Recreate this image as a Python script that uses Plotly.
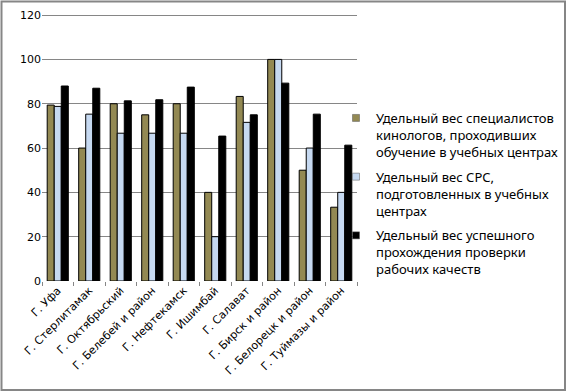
import plotly.graph_objects as go

categories = ["Г. Уфа", "Г. Стерлитамак", "Г. Октябрьский", "Г. Белебей и район",
              "Г. Нефтекамск", "Г. Ишимбай", "Г. Салават", "Г. Бирск и район",
              "Г. Белорецк и район", "Г. Туймазы и район"]
series1 = [79.4, 60, 80, 75, 80, 40, 83.3, 100, 50, 33.3]
series2 = [78.8, 75.3, 66.7, 66.7, 66.7, 20, 71.6, 100, 60, 40]
series3 = [88, 87, 81.3, 81.8, 87.5, 65.4, 75, 89.3, 75.3, 61.3]
names = ["Удельный вес специалистов<br>кинологов, проходивших<br>обучение в учебных центрах",
         "Удельный вес СРС,<br>подготовленных в учебных<br>центрах",
         "Удельный вес успешного<br>прохождения проверки<br>рабочих качеств"]
colors = ["#938953", "#C6D9F1", "#000000"]
y_ticks = [0, 20, 40, 60, 80, 100, 120]

W, H = 567, 392
L, R, T, B = 42, 210, 14, 111
pw, ph = W - L - R, H - T - B

fig = go.Figure()
for vals, nm, c in zip([series1, series2, series3], names, colors):
    fig.add_trace(go.Bar(x=categories, y=vals, name=nm, showlegend=False,
                         marker=dict(color=c, line=dict(color="#000000", width=1))))
# legend entries with small square keys
for i, (nm, c) in enumerate(zip(names, colors)):
    fig.add_trace(go.Scatter(x=[None], y=[None], mode="markers", name=nm, legendgroup=f"g{i}",
                             marker=dict(symbol="square", size=7, color=c,
                                         line=dict(color="#555555", width=0.5))))

fig.update_layout(
    width=W, height=H, margin=dict(l=L, r=R, t=T, b=B, autoexpand=False),
    paper_bgcolor="white", plot_bgcolor="white",
    barmode="group", bargap=0.33, bargroupgap=0,
    font=dict(family="DejaVu Sans, sans-serif", size=11, color="#000000"),
    showlegend=True,
    legend=dict(x=(336 - L) / pw, y=(H - 103 - B) / ph, xanchor="left", yanchor="top",
                font=dict(family="Noto Sans, sans-serif", size=13), tracegroupgap=5,
                itemwidth=30, valign="top", bgcolor="rgba(0,0,0,0)"),
    xaxis=dict(tickangle=-45, showline=False, zeroline=False,
               ticks="outside", ticklen=4, tickcolor="#868686", tickson="boundaries",
               tickfont=dict(size=11)),
    yaxis=dict(range=[0, 120.5], tickvals=y_ticks, showgrid=True, gridcolor="#868686", gridwidth=1,
               showline=False, zeroline=False, ticks="", tickfont=dict(size=11)),
)
fig.add_shape(type="rect", xref="paper", yref="paper",
              x0=(1.5 - L) / pw, x1=(W - 2 - L) / pw,
              y0=-(H - 2 - T - ph) / ph, y1=1 + (T - 1.5) / ph,
              line=dict(color="#868686", width=2), fillcolor="rgba(0,0,0,0)", layer="above")
fig.write_html("out.html", config={"displayModeBar": False},
               post_script="document.body.style.margin='0';")
